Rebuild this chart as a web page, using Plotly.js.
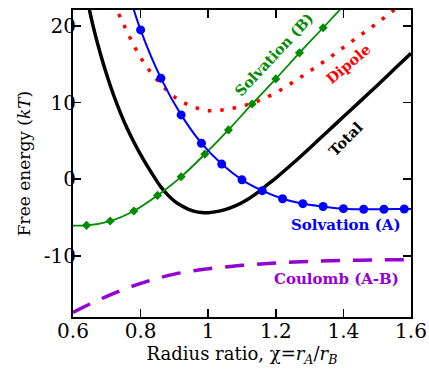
<!DOCTYPE html>
<html>
<head>
<meta charset="utf-8">
<script src="https://cdn.plot.ly/plotly-3.0.1.min.js"></script>
<style>html,body{margin:0;padding:0;background:#fff;}#chart{width:429px;height:371px;}</style>
</head>
<body>
<div id="chart"></div>
<script>
// Solvation (A) - blue, circles
var solvAX = [0.74, 0.80, 0.86, 0.92, 0.98, 1.04, 1.10, 1.16, 1.22, 1.28, 1.34, 1.40, 1.46, 1.52, 1.58, 1.64];
var solvAY = [27.9, 19.5, 13.2, 8.4, 4.7, 1.97, -0.08, -1.5, -2.55, -3.2, -3.56, -3.85, -3.92, -3.92, -3.9, -3.88];
// Solvation (B) - green, diamonds
var solvBX = [0.57, 0.64, 0.71, 0.78, 0.85, 0.92, 0.99, 1.06, 1.13, 1.20, 1.27, 1.34, 1.41];
var solvBY = [-6.0, -6.03, -5.47, -4.16, -2.12, 0.31, 3.27, 6.44, 9.83, 13.1, 16.5, 19.78, 23.1];
// Dipole - red dotted
var dipoleX = [0.72, 0.75, 0.80, 0.85, 0.90, 0.95, 1.00, 1.05, 1.10, 1.15, 1.20, 1.25, 1.30, 1.35, 1.40, 1.45, 1.50, 1.55, 1.60];
var dipoleY = [23.1, 20.2, 15.9, 12.9, 10.75, 9.55, 8.95, 9.1, 9.55, 10.25, 11.3, 12.65, 14.1, 15.6, 17.2, 18.8, 20.4, 22.1, 23.8];
// Total - black
var totalX = [0.64, 0.66, 0.68, 0.70, 0.72, 0.74, 0.76, 0.78, 0.80, 0.82, 0.84, 0.86, 0.88, 0.90, 0.92, 0.94, 0.96, 0.98, 1.00, 1.02, 1.05, 1.08, 1.11, 1.14, 1.17, 1.20, 1.25, 1.30, 1.35, 1.40, 1.45, 1.50, 1.55, 1.60];
var totalY = [23.9, 19.9, 16.55, 13.6, 11.0, 8.7, 6.65, 4.85, 3.2, 1.7, 0.3, -1.0, -2.05, -2.85, -3.45, -3.9, -4.2, -4.35, -4.38, -4.27, -3.97, -3.49, -2.81, -1.95, -0.9, 0.15, 2.05, 4.05, 6.1, 8.15, 10.2, 12.25, 14.35, 16.45];
// Coulomb (A-B) - purple dashed
var coulombX = [0.60, 0.65, 0.70, 0.75, 0.80, 0.85, 0.90, 0.95, 1.00, 1.10, 1.20, 1.30, 1.40, 1.50, 1.60];
var coulombY = [-17.4, -16.3, -15.3, -14.4, -13.6, -12.95, -12.4, -12.0, -11.7, -11.25, -10.95, -10.75, -10.62, -10.55, -10.5];

var xTickVals = [0.6, 0.8, 1.0, 1.2, 1.4, 1.6];
var xTickText = ['0.6', '0.8', '1', '1.2', '1.4', '1.6'];
var yTickVals = [-10, 0, 10, 20];
var yTickText = ['-10', '0', '10', '20'];

var labelText = ['Solvation (A)', 'Coulomb (A-B)', 'Solvation (B)', 'Dipole', 'Total'];
var labelX = [1.409, 1.380, 1.193, 1.415, 1.407];
var labelY = [-5.95, -13.0, 16.35, 15.05, 5.33];
var labelAngle = [0, 0, -47, -40, -45];
var labelColor = ['#0000ff', '#9400d3', '#008c00', '#ff0000', '#000000'];
var labelSize = [15, 15, 14.5, 14.5, 14.5];

var FONT = 'DejaVu Serif';

var traces = [
  {x: coulombX, y: coulombY, mode: 'lines', line: {color: '#9400d3', width: 3.5, dash: '19px,13px', shape: 'spline', simplify: false}},
  {x: dipoleX, y: dipoleY, mode: 'lines', line: {color: '#ff0000', width: 3.5, dash: '3.5px,9px', shape: 'spline', simplify: false}},
  {x: totalX, y: totalY, mode: 'lines', line: {color: '#000000', width: 3.5, shape: 'spline', simplify: false}},
  {x: solvBX, y: solvBY, mode: 'lines+markers', line: {color: '#008c00', width: 1.8, shape: 'spline', simplify: false}, marker: {symbol: 'diamond', size: 7, color: '#008c00'}},
  {x: solvAX, y: solvAY, mode: 'lines+markers', line: {color: '#0000ff', width: 2, shape: 'spline', simplify: false}, marker: {symbol: 'circle', size: 9, color: '#0000ff'}}
];

var annotations = labelText.map(function(t, i) {
  return {x: labelX[i], y: labelY[i], xref: 'x', yref: 'y', text: '<b>' + t + '</b>', showarrow: false,
          textangle: labelAngle[i], font: {family: FONT, size: labelSize[i], color: labelColor[i]}};
});

var axisCommon = {
  ticks: 'inside', ticklen: 8, tickwidth: 1.5, tickcolor: '#000',
  showline: true, linewidth: 2, linecolor: '#000', mirror: 'ticks',
  showgrid: false, zeroline: false,
  tickfont: {family: FONT, size: 20, color: '#000'}
};

var layout = {
  width: 429, height: 371,
  margin: {l: 73, r: 18, t: 10, b: 54},
  paper_bgcolor: '#fff', plot_bgcolor: '#fff',
  showlegend: false,
  font: {family: FONT, color: '#000'},
  xaxis: Object.assign({}, axisCommon, {
    range: [0.6, 1.6], tickmode: 'array', tickvals: xTickVals, ticktext: xTickText,
    ticklabelstandoff: -5,
    title: {text: 'Radius ratio, χ=<i>r</i><sub><i>A</i></sub>/<i>r</i><sub><i>B</i></sub>', font: {family: FONT, size: 18, color: '#000'}, standoff: 4}
  }),
  yaxis: Object.assign({}, axisCommon, {
    range: [-18, 22.1], tickmode: 'array', tickvals: yTickVals, ticktext: yTickText,
    ticklabelstandoff: -9,
    title: {text: 'Free energy (<i>kT</i>)', font: {family: FONT, size: 17, color: '#000'}, standoff: 9}
  }),
  annotations: annotations
};

Plotly.newPlot('chart', traces, layout, {displayModeBar: false, staticPlot: true});
</script>
</body>
</html>
